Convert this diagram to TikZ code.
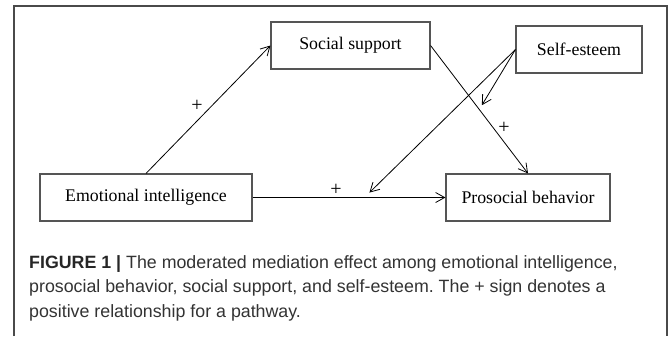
\documentclass[tikz,border=0pt]{standalone}
\usepackage{fontspec}
\setmainfont{Liberation Serif}
\newfontfamily\capfont{Liberation Sans}
\usetikzlibrary{arrows.meta,positioning,calc}
\definecolor{framegray}{HTML}{4A4A4A}
\definecolor{boxgray}{HTML}{555555}
\definecolor{capgray}{HTML}{333333}
\frenchspacing

\begin{document}
\begin{tikzpicture}[x=1bp,y=-1bp,
  box/.style={draw=boxgray,line width=1.1bp,align=center,font=\fontsize{17.8bp}{20bp}\selectfont,minimum height=47bp,inner sep=0pt},
  sign/.style={font=\fontsize{20bp}{20bp}\selectfont,inner sep=0pt},
  link/.style={->,line width=0.8bp},
  >={Straight Barb[length=9bp,width=10bp]}]
\useasboundingbox (0,0) rectangle (669,336);
\draw[framegray,line width=1.5bp] (14,336) -- (14,6) -- (667,6) -- (667,336);
\node[box,minimum width=212bp] (EI) at (146,197.5) {Emotional intelligence};
\node[box,minimum width=159bp] (SS) at (350.5,45.5) {Social support};
\node[box,minimum width=126bp] (SE) at (579,49.5) {Self-esteem};
\node[box,minimum width=164bp] (PB) at (528,197.5) {Prosocial behavior};
\draw[link] (EI.north) -- node[sign,pos=0.53,left=9bp] {+} (SS.west);
\draw[link] (SS.east) -- node[sign,pos=0.64,right=5bp] {+} (PB.north);
\draw[link] (EI.east) -- node[sign,pos=0.433,above=2bp] {+} (PB.west);
% moderation by self-esteem
\coordinate (m1) at ($(SS.east)!0.5!(PB.north)$);
\coordinate (m2) at ($(EI.east)!0.58!(PB.west)$);
\draw[link,shorten >=5bp] (SE.west) -- (m1);
\draw[link,shorten >=7bp] (SE.west) -- (m2);
\node[anchor=north west,inner sep=0pt,align=left,text=capgray,
  font=\capfont\fontsize{17.8bp}{24.5bp}\selectfont] (cap) at (29,255)
  {{\bfseries\color{black!85}FIGURE 1 |} The moderated mediation effect among emotional intelligence,\\
   prosocial behavior, social support, and self-esteem. The + sign denotes a\\
   positive relationship for a pathway.};
\end{tikzpicture}
\end{document}
